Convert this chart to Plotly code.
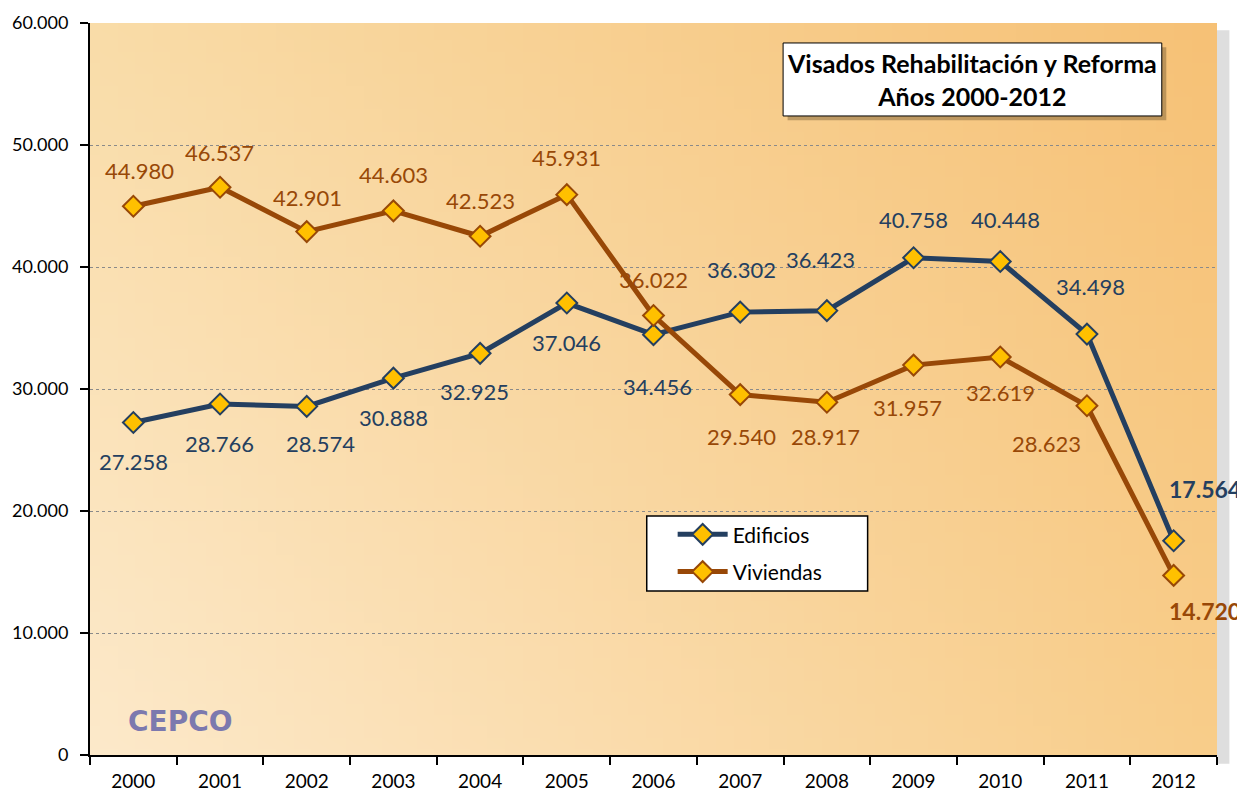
import base64, struct, zlib
import plotly.graph_objects as go

# ---------------- data ----------------
years = ["2000", "2001", "2002", "2003", "2004", "2005", "2006",
         "2007", "2008", "2009", "2010", "2011", "2012"]
edificios = [27258, 28766, 28574, 30888, 32925, 37046, 34456,
             36302, 36423, 40758, 40448, 34498, 17564]
viviendas = [44980, 46537, 42901, 44603, 42523, 45931, 36022,
             29540, 28917, 31957, 32619, 28623, 14720]
provisional = [False] * 12 + [True]
y_ticks = [0, 10000, 20000, 30000, 40000, 50000, 60000]

title_lines = ["Visados Rehabilitación y Reforma", "Años 2000-2012"]

# ---------------- styling ----------------
C_EDI = "#243F60"
C_VIV = "#984807"
C_MARK = "#FFC000"
FONT = "Lato"

# label offsets (pixels) : (xshift, yshift)
off_edi = [(0, -39), (-1, -39), (14, -37), (0, -39), (-6, -38), (0, -39), (4, -52),
           (1, 43), (-6, 51), (0, 38), (5, 42), (4, 48), (36, 52)]
off_viv = [(6, 36), (-1, 35), (1, 34), (0, 36), (0, 36), (0, 37), (0, 36),
           (1, -42), (-1, -34), (-6, -42), (0, -35), (-40, -38), (36, -36)]


def fmt(v, star):
    s = f"{v:,}".replace(",", ".")
    return s + ("*" if star else "")


def gradient_png(w, h, tl, tr, bl, br):
    def hx(c):
        return [int(c[i:i + 2], 16) for i in (1, 3, 5)]
    tl, tr, bl, br = map(hx, (tl, tr, bl, br))
    raw = bytearray()
    for j in range(h):
        v = j / (h - 1)
        raw.append(0)
        for i in range(w):
            u = i / (w - 1)
            for k in range(3):
                top = tl[k] * (1 - u) + tr[k] * u
                bot = bl[k] * (1 - u) + br[k] * u
                raw.append(int(round(top * (1 - v) + bot * v)))

    def chunk(t, d):
        c = struct.pack(">I", len(d)) + t + d
        return c + struct.pack(">I", zlib.crc32(t + d) & 0xFFFFFFFF)
    png = b"\x89PNG\r\n\x1a\n"
    png += chunk(b"IHDR", struct.pack(">IIBBBBB", w, h, 8, 2, 0, 0, 0))
    png += chunk(b"IDAT", zlib.compress(bytes(raw), 9))
    png += chunk(b"IEND", b"")
    return "data:image/png;base64," + base64.b64encode(png).decode()


bg = gradient_png(64, 64, "#F9DCA8", "#F6C176", "#FCE9CA", "#F8CD8A")

fig = go.Figure()
fig.add_trace(go.Scatter(
    x=years, y=edificios, name="Edificios", mode="lines+markers",
    legendgroup="e",
    line=dict(color=C_EDI, width=5),
    marker=dict(symbol="diamond", size=16, color=C_MARK,
                line=dict(color=C_EDI, width=2)),
))
fig.add_trace(go.Scatter(
    x=years, y=viviendas, name="Viviendas", mode="lines+markers",
    legendgroup="v",
    line=dict(color=C_VIV, width=5),
    marker=dict(symbol="diamond", size=16, color=C_MARK,
                line=dict(color=C_VIV, width=2)),
))

annotations = []
for series, color, offs in ((edificios, C_EDI, off_edi), (viviendas, C_VIV, off_viv)):
    for idx, (v, star, (dx, dy)) in enumerate(zip(series, provisional, offs)):
        txt = fmt(v, star)
        size = 22
        if star:
            txt = "<b>" + txt + "</b>"
            size = 23
        annotations.append(dict(
            x=idx, y=v, text=txt, showarrow=False, xshift=dx, yshift=dy,
            font=dict(family=FONT, size=size, color=color),
            xanchor="center", yanchor="middle"))

# title box text
annotations.append(dict(
    xref="paper", yref="paper", x=0.7825, y=0.9225,
    text="<b>" + title_lines[0] + "</b><br><b>" + title_lines[1] + "</b>",
    showarrow=False, align="center", xanchor="center", yanchor="middle",
    font=dict(family=FONT, size=25, color="#000000")))

# CEPCO logo text
annotations.append(dict(
    xref="paper", yref="paper", x=0.08, y=0.046, text="<b>CEPCO</b>",
    showarrow=False, xanchor="center", yanchor="middle",
    font=dict(family="DejaVu Sans", size=28, color="#7C79AE")))

shapes = [
    # plot-area shadow
    dict(type="rect", xref="paper", yref="paper", x0=1.0, x1=1.011, y0=-0.012, y1=0.99,
         fillcolor="rgba(90,90,90,0.2)", line=dict(width=0), layer="below"),
    # title box shadow
    dict(type="rect", xref="paper", yref="paper", x0=0.619, x1=0.955, y0=0.867, y1=0.967,
         fillcolor="rgba(80,60,30,0.35)", line=dict(width=0)),
    # title box
    dict(type="rect", xref="paper", yref="paper", x0=0.615, x1=0.951, y0=0.873, y1=0.9727,
         fillcolor="#FFFFFF", line=dict(color="#000000", width=1)),
    # legend box
    dict(type="rect", xref="paper", yref="paper", x0=0.494, x1=0.690, y0=0.224, y1=0.3265,
         fillcolor="#FFFFFF", line=dict(color="#000000", width=1.5)),
]

# The page body has an 8px margin, so the figure is offset by 8px.
fig.update_layout(
    width=1237, height=791,
    margin=dict(l=82, r=28, t=15, b=44, autoexpand=False),
    paper_bgcolor="#FFFFFF",
    plot_bgcolor="rgba(0,0,0,0)",
    separators=",.",
    font=dict(family=FONT, color="#000000"),
    showlegend=True,
    legend=dict(x=0.517, y=0.329, xanchor="left", yanchor="top",
                bgcolor="rgba(0,0,0,0)", borderwidth=0,
                font=dict(family=FONT, size=21, color="#000000"),
                tracegroupgap=7, itemwidth=50),
    annotations=annotations,
    shapes=shapes,
    images=[dict(source=bg, xref="paper", yref="paper", x=0, y=1,
                 sizex=1, sizey=1, sizing="stretch", layer="below")],
)

fig.update_xaxes(
    type="category", range=[-0.5, len(years) - 0.5], autorange=False,
    tickson="boundaries", ticks="outside", ticklen=8, tickangle=0,
    tickwidth=1.5, tickcolor="#000000", showline=True, linecolor="#000000",
    linewidth=2, showgrid=False, tickfont=dict(family=FONT, size=19, color="#000000"),
    ticklabelstandoff=8, zeroline=False, automargin=False)
fig.update_yaxes(
    range=[0, 60000], autorange=False, tickvals=y_ticks, tickformat=",.0f", ticks="outside",
    ticklen=8, tickwidth=1.5, tickcolor="#000000", showline=True,
    linecolor="#000000", linewidth=2, showgrid=True, gridcolor="#8A8A8A",
    griddash="dot", gridwidth=1, zeroline=False, automargin=False,
    ticklabelstandoff=8,
    tickfont=dict(family=FONT, size=18, color="#000000"))

fig.write_html("out.html")
